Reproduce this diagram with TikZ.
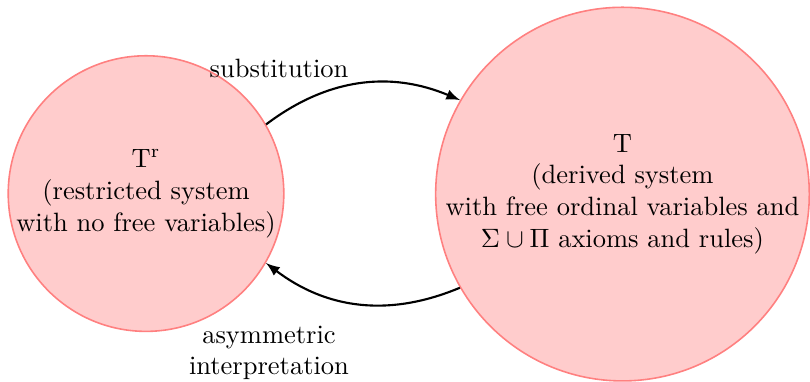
\documentclass[tikz,border=0pt]{standalone}
\usetikzlibrary{arrows}
\begin{document}
\begin{tikzpicture}[x=1pt,y=1pt,
  sysnode/.style={circle, draw=red!50, fill=red!20, semithick, align=center, inner sep=0pt},
  flow/.style={-latex, thick},
  lbl/.style={align=center, inner sep=1pt}]
\useasboundingbox (0,0) rectangle (305.66,144.15);
% restricted and derived systems
\node[sysnode, minimum size=104pt] (restr) at (55.1,71.1)
  {T\textsuperscript{r}\\(restricted system\\with no free variables)};
\node[sysnode, minimum size=141pt] (deriv) at (234.9,70.9)
  {T\\(derived system\\with free ordinal variables and\\$\Sigma\cup\Pi$ axioms and rules)};
% translations between them
\draw[flow] (restr) to[bend left=30] (deriv);
\draw[flow] (deriv) to[bend left=30] (restr);
\node[lbl] (subst) at (105.3,118.5) {substitution};
\node[lbl] (asym) at (101.5,11) {asymmetric\\interpretation};
\end{tikzpicture}
\end{document}
